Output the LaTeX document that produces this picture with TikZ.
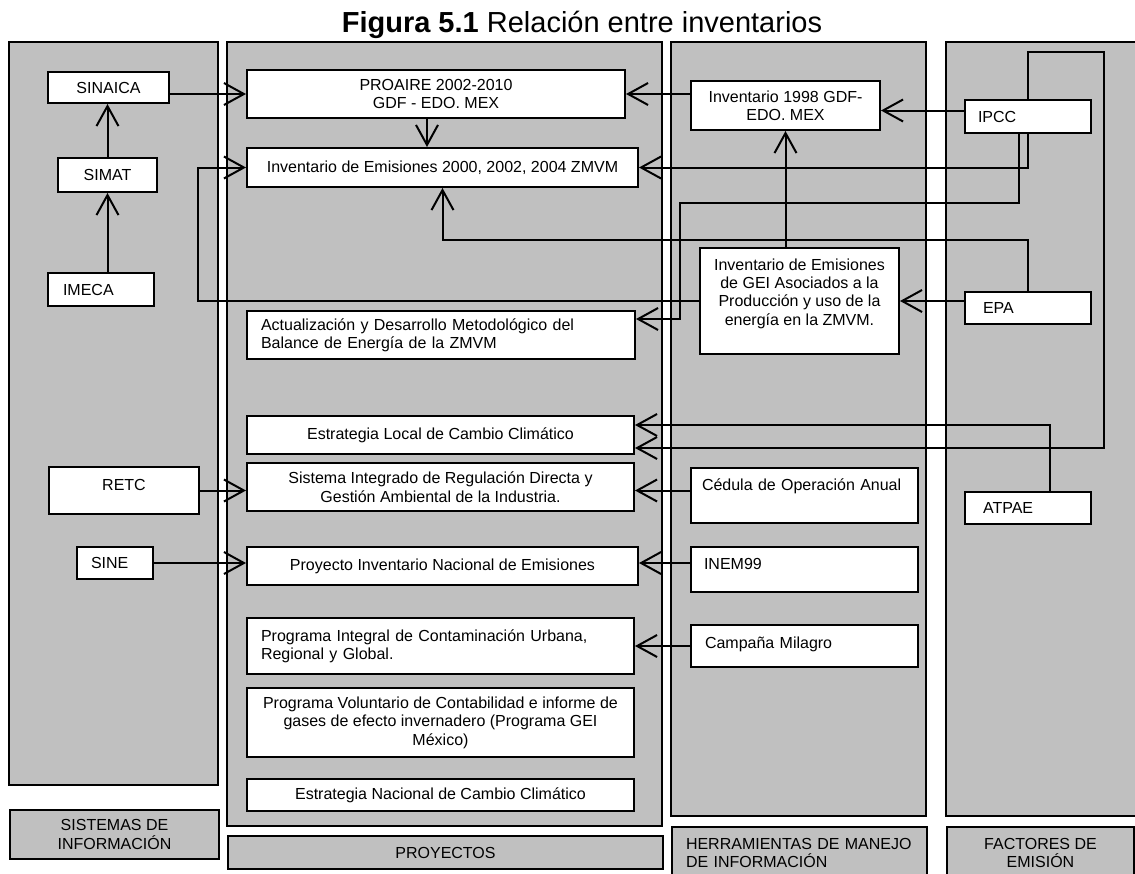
\documentclass[tikz,border=0pt]{standalone}
\usepackage{fontspec}
\setmainfont{Liberation Sans}
\usetikzlibrary{arrows.meta}

\definecolor{panelgray}{RGB}{192,192,192}
\newcommand\boxfont{\fontsize{16}{18.4}\selectfont}
\newcommand\titlefont{\fontsize{29}{33}\selectfont}

\begin{document}
\begin{tikzpicture}[x=1pt,y=-1pt]
  \tikzstyle{panel}=[draw,line width=2pt,fill=panelgray]
  \tikzstyle{box}=[draw,line width=2pt,fill=white,inner sep=0pt,anchor=north west,font=\boxfont,align=center]
  \tikzstyle{lbox}=[box,align=left]
  \tikzstyle{arr}=[line width=2pt,-{Straight Barb[length=20pt,width=22pt]}]
  \useasboundingbox (0,0) rectangle (1135,873);

  % columns
  \draw [panel] (9,42) rectangle (218,785);
  \draw [panel] (227,42) rectangle (662,826);
  \draw [panel] (671,42) rectangle (926,816);
  \draw [panel] (946,42) rectangle (1145,816);

  \node [font=\titlefont,anchor=base] (title) at (582,32) {\textbf{Figura 5.1} Relación entre inventarios};

  % sistemas de informacion
  \node [box,minimum width=121,minimum height=31] (sinaica) at (47,71) {SINAICA};
  \node [box,minimum width=99,minimum height=34] (simat) at (57,157) {SIMAT};
  \node [lbox,text width=76,inner xsep=15,minimum height=33] (imeca) at (47,272) {IMECA};
  \node [box,minimum width=150,text height=23,text depth=24] (retc) at (48,466) {RETC};
  \node [lbox,text width=48,inner xsep=14,minimum height=32] (sine) at (76,546) {SINE};

  % proyectos
  \node [box,minimum width=378,minimum height=48] (proaire) at (246,69) {PROAIRE 2002-2010\\GDF - EDO. MEX};
  \node [box,minimum width=391,minimum height=39] (inv2000) at (246,147) {Inventario de Emisiones 2000, 2002, 2004 ZMVM};
  \node [lbox,text width=360,inner xsep=14,minimum height=48] (actual) at (246,310) {Actualización y Desarrollo Metodológico del\\Balance de Energía de la ZMVM};
  \node [box,minimum width=387,minimum height=38] (local) at (246,415) {Estrategia Local de Cambio Climático};
  \node [box,minimum width=387,minimum height=48] (sistint) at (246,462) {Sistema Integrado de Regulación Directa y\\Gestión Ambiental de la Industria.};
  \node [box,minimum width=391,minimum height=38] (pnac) at (246,546) {Proyecto Inventario Nacional de Emisiones};
  \node [lbox,text width=359,inner xsep=14,minimum height=56] (pintegral) at (246,617) {Programa Integral de Contaminación Urbana,\\Regional y Global.};
  \node [box,minimum width=387,minimum height=69] (pvolunt) at (246,687) {Programa Voluntario de Contabilidad e informe de\\gases de efecto invernadero (Programa GEI\\México)};
  \node [box,minimum width=387,minimum height=32] (enacional) at (246,778) {Estrategia Nacional de Cambio Climático};

  % herramientas
  \node [box,minimum width=189,minimum height=49] (inv98) at (690,80) {Inventario 1998 GDF-\\EDO. MEX};
  \node [box,minimum width=199,minimum height=106] (gei) at (699,247) {Inventario de Emisiones\\de GEI Asociados a la\\Producción y uso de la\\energía en la ZMVM.\\ \mbox{}};
  \node [lbox,text width=205,inner xsep=11,text height=22,text depth=33] (cedula) at (690,467) {Cédula de Operación Anual};
  \node [lbox,text width=201,inner xsep=13,text height=22,text depth=23] (inem) at (690,546) {INEM99};
  \node [lbox,text width=199,inner xsep=14,text height=23,text depth=19] (campana) at (690,624) {Campaña Milagro};

  % factores
  \node [lbox,text width=100,inner xsep=13,minimum height=33] (ipcc) at (964,99) {IPCC};
  \node [lbox,text width=90,inner xsep=18,minimum height=32] (epa) at (964,291) {EPA};
  \node [lbox,text width=90,inner xsep=18,minimum height=32] (atpae) at (964,491) {ATPAE};

  % rotulos
  \node [box,fill=panelgray,minimum width=209,minimum height=49] (sistlab) at (9,809) {SISTEMAS DE\\INFORMACIÓN};
  \node [box,fill=panelgray,minimum width=435,minimum height=33] (proylab) at (227,835) {PROYECTOS};
  \node [lbox,fill=panelgray,text width=227,inner xsep=14,minimum height=52] (herrlab) at (671,826) {HERRAMIENTAS DE MANEJO\\DE INFORMACIÓN};
  \node [box,fill=panelgray,minimum width=187,minimum height=52] (factlab) at (946,826) {FACTORES DE\\EMISIÓN};

  % relaciones
  \draw [arr] (simat.south |- imeca.north) -- (simat.south);
  \draw [arr] (simat.north) -- (simat.north |- sinaica.south);
  \draw [arr] (sinaica.east |- proaire.west) -- (proaire.west);
  \draw [arr] (inv98.west |- proaire.east) -- (proaire.east);
  \draw [arr] ([xshift=-9pt]proaire.south) -- ([xshift=-9pt]proaire.south |- inv2000.north);
  \draw [arr] ([yshift=6pt]ipcc.west) -- ([yshift=6pt]ipcc.west -| inv98.east);
  \draw [arr] (ipcc.north) |- (1104,52) |- ([yshift=-13pt]local.east);
  \draw [arr] (ipcc.south) |- (inv2000.east);
  \draw [arr] ([xshift=-9pt]ipcc.south) |- (680,203) |- ([yshift=16pt]actual.east);
  \draw [arr] (epa.north) |- ([yshift=-52pt]inv2000.south) -- (inv2000.south);
  \draw [arr] (gei.west) -| ([xshift=-48pt]inv2000.west) -- (inv2000.west);
  \draw [arr] (inv98.south |- gei.north) -- (inv98.south);
  \draw [arr] (epa.west |- gei.east) -- (gei.east);
  \draw [arr] ([xshift=22pt]atpae.north) |- ([yshift=10pt]local.east);
  \draw [arr] (retc.east) -- (retc.east -| sistint.west);
  \draw [arr] (cedula.west |- retc.east) -- (retc.east -| sistint.east);
  \draw [arr] (sine.east) -- (sine.east -| pnac.west);
  \draw [arr] (inem.west |- sine.east) -- (sine.east -| pnac.east);
  \draw [arr] (campana.west) -- (campana.west -| pintegral.east);
\end{tikzpicture}
\end{document}
